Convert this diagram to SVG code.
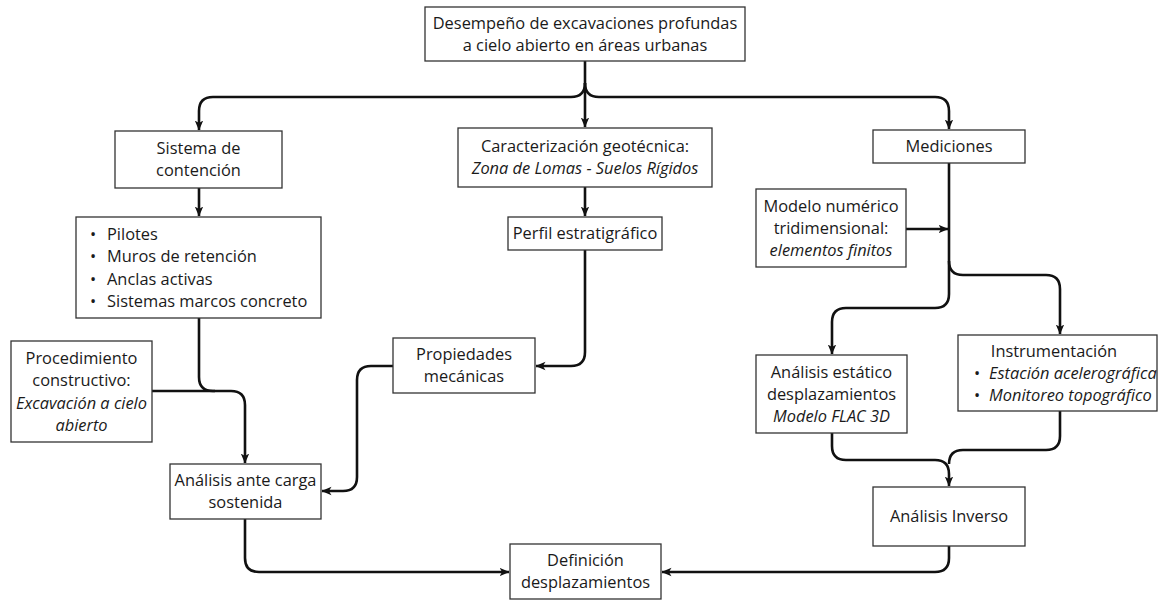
<svg xmlns="http://www.w3.org/2000/svg" width="1158" height="601" viewBox="0 0 1158 601">
<defs>
<style>
.box{fill:#fff;stroke:#333;stroke-width:1.3}
.t{font-family:"Open Sans","Noto Sans","DejaVu Sans",sans-serif;font-size:16.4px;fill:#1a1a1a;text-anchor:middle}
.l{text-anchor:start}
.i{font-style:italic}
.c{fill:none;stroke:#111;stroke-width:2.6;stroke-linejoin:round}
.a{marker-end:url(#ah)}
</style>
<marker id="ah" markerUnits="userSpaceOnUse" viewBox="0 0 10 10" markerWidth="10" markerHeight="10" refX="9.5" refY="5" orient="auto">
<path d="M0,0.8 L10,5 L0,9.2 L2.6,5 Z" fill="#111"/>
</marker>
</defs>
<rect width="1158" height="601" fill="#fff"/>

<g id="connectors">
<path class="c a" d="M585,61 V127"/>
<path class="c a" d="M585,83 Q585,97 571,97 H213 Q199,97 199,111 V130"/>
<path class="c a" d="M585,83 Q585,97 599,97 H935 Q949,97 949,111 V129"/>
<path class="c a" d="M199,188 V216"/>
<path class="c a" d="M585,187 V216"/>
<path class="c a" d="M949,163 V294 Q949,308 935,308 H846 Q832,308 832,322 V354"/>
<path class="c a" d="M949,261 Q949,275 963,275 H1046 Q1060,275 1060,289 V334"/>
<path class="c a" d="M906,229 H948"/>
<path class="c a" d="M199,318 V377 Q199,391 213,391 H231 Q245,391 245,405 V463"/>
<path class="c" d="M152,391 H215"/>
<path class="c a" d="M585,250 V352 Q585,366 571,366 H536"/>
<path class="c a" d="M393,366 H371 Q357,366 357,380 V477 Q357,491 343,491 H322"/>
<path class="c a" d="M832,433 V446 Q832,460 846,460 H935 Q949,460 949,474 V486"/>
<path class="c" d="M1060,411 V436 Q1060,450 1046,450 H963 Q949,450 949,464"/>
<path class="c a" d="M245,519 V558 Q245,572 259,572 H509"/>
<path class="c a" d="M949,546 V558 Q949,572 935,572 H662"/>
</g>

<g id="n-desempeno">
<rect class="box" x="425" y="7" width="320" height="54"/>
<text class="t" x="585" y="29">Desempeño de excavaciones profundas</text>
<text class="t" x="585" y="51">a cielo abierto en áreas urbanas</text>
</g>

<g id="n-sistema">
<rect class="box" x="115" y="131" width="167" height="57"/>
<text class="t" x="198.5" y="154">Sistema de</text>
<text class="t" x="198.5" y="176">contención</text>
</g>

<g id="n-caracterizacion">
<rect class="box" x="458" y="128" width="254" height="59"/>
<text class="t" x="585" y="152">Caracterización geotécnica:</text>
<text class="t i" x="585" y="174">Zona de Lomas - Suelos Rígidos</text>
</g>

<g id="n-mediciones">
<rect class="box" x="873" y="130" width="152" height="33"/>
<text class="t" x="949" y="152">Mediciones</text>
</g>

<g id="n-elementos">
<rect class="box" x="76" y="217" width="245" height="101"/>
<text class="t l" x="90" y="239.5">•</text>
<text class="t l" x="107" y="239.5">Pilotes</text>
<text class="t l" x="90" y="262">•</text>
<text class="t l" x="107" y="262">Muros de retención</text>
<text class="t l" x="90" y="284.5">•</text>
<text class="t l" x="107" y="284.5">Anclas activas</text>
<text class="t l" x="90" y="307">•</text>
<text class="t l" x="107" y="307">Sistemas marcos concreto</text>
</g>

<g id="n-perfil">
<rect class="box" x="508" y="217" width="154" height="33"/>
<text class="t" x="585" y="239">Perfil estratigráfico</text>
</g>

<g id="n-modelo">
<rect class="box" x="756" y="189" width="150" height="78"/>
<text class="t" x="831" y="211.5">Modelo numérico</text>
<text class="t" x="831" y="233.5">tridimensional:</text>
<text class="t i" x="831" y="255.5">elementos finitos</text>
</g>

<g id="n-procedimiento">
<rect class="box" x="11" y="341" width="141" height="101"/>
<text class="t" x="81.5" y="363.5">Procedimiento</text>
<text class="t" x="81.5" y="386">constructivo:</text>
<text class="t i" x="81.5" y="408.5">Excavación a cielo</text>
<text class="t i" x="81.5" y="431">abierto</text>
</g>

<g id="n-propiedades">
<rect class="box" x="393" y="338" width="142" height="55"/>
<text class="t" x="464" y="360">Propiedades</text>
<text class="t" x="464" y="382">mecánicas</text>
</g>

<g id="n-estatico">
<rect class="box" x="756" y="355" width="151" height="78"/>
<text class="t" x="831.5" y="377.5">Análisis estático</text>
<text class="t" x="831.5" y="399.5">desplazamientos</text>
<text class="t i" x="831.5" y="421.5">Modelo FLAC 3D</text>
</g>

<g id="n-instrumentacion">
<rect class="box" x="958" y="335" width="199" height="76"/>
<text class="t" x="1054" y="357">Instrumentación</text>
<text class="t l" x="974" y="379">•</text>
<text class="t l i" x="989" y="379">Estación acelerográfica</text>
<text class="t l" x="974" y="401">•</text>
<text class="t l i" x="989" y="401">Monitoreo topográfico</text>
</g>

<g id="n-carga">
<rect class="box" x="170" y="464" width="151" height="55"/>
<text class="t" x="245.5" y="486">Análisis ante carga</text>
<text class="t" x="245.5" y="508">sostenida</text>
</g>

<g id="n-inverso">
<rect class="box" x="873" y="487" width="152" height="59"/>
<text class="t" x="949" y="522">Análisis Inverso</text>
</g>

<g id="n-definicion">
<rect class="box" x="510" y="544" width="151" height="55"/>
<text class="t" x="585.5" y="566">Definición</text>
<text class="t" x="585.5" y="588">desplazamientos</text>
</g>
</svg>
